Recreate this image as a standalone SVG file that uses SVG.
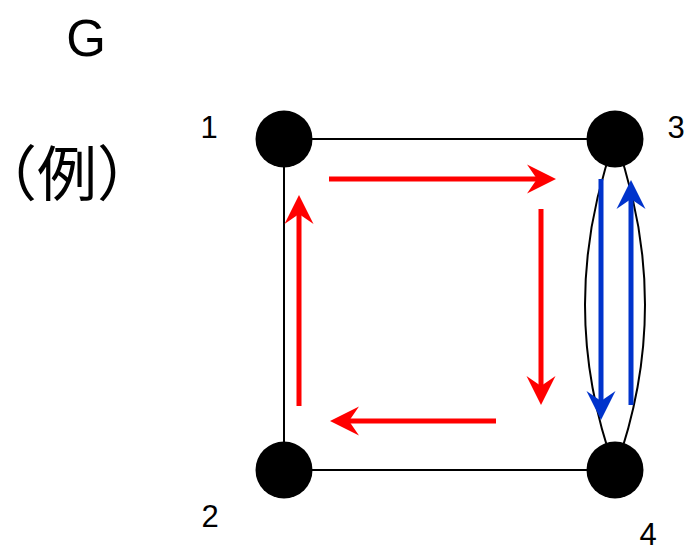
<svg xmlns="http://www.w3.org/2000/svg" width="688" height="552" viewBox="0 0 688 552">
<style>
.edge{fill:none;stroke:#000;stroke-width:2}
.node{fill:#000}
.num{font-family:"Liberation Sans",Arial,sans-serif;font-size:31px;fill:#000;text-anchor:middle}
.red{stroke:#ff0000;stroke-width:5;fill:none}
.blue{stroke:#0033cc;stroke-width:5;fill:none}
.rei{font-family:"Noto Sans CJK JP",sans-serif;font-size:60px;font-feature-settings:"halt" 1}
</style>
<defs>
<marker id="ahR" markerUnits="userSpaceOnUse" markerWidth="30" markerHeight="30" viewBox="0 -15 30 30" refX="10" refY="0" orient="auto">
<path d="M0,-14.5 L29,0 L0,14.5 L10,0 Z" fill="#ff0000"/>
</marker>
<marker id="ahB" markerUnits="userSpaceOnUse" markerWidth="30" markerHeight="30" viewBox="0 -15 30 30" refX="10" refY="0" orient="auto">
<path d="M0,-14.5 L29,0 L0,14.5 L10,0 Z" fill="#0033cc"/>
</marker>
</defs>
<rect width="688" height="552" fill="#fff"/>
<text x="86" y="56" font-family="Liberation Sans,Arial,sans-serif" font-size="51" text-anchor="middle">G</text>
<text class="rei" x="7" y="196">（例）</text>
<g id="connectors">
<path class="edge" d="M284,139 L615,139"/>
<path class="edge" d="M284,139 L284,470"/>
<path class="edge" d="M284,470 L615,470"/>
<path class="edge" d="M615,139 Q555,305 615,470"/>
<path class="edge" d="M615,139 Q675,305 615,470"/>
<line class="red" x1="329" y1="179" x2="537" y2="179" marker-end="url(#ahR)"/>
<line class="red" x1="541" y1="209" x2="541" y2="386" marker-end="url(#ahR)"/>
<line class="red" x1="496" y1="421" x2="349" y2="421" marker-end="url(#ahR)"/>
<line class="red" x1="299" y1="406" x2="299" y2="214" marker-end="url(#ahR)"/>
<line class="blue" x1="601" y1="179" x2="601" y2="401" marker-end="url(#ahB)"/>
<line class="blue" x1="631" y1="405" x2="631" y2="199" marker-end="url(#ahB)"/>
</g>
<g id="node1"><circle class="node" cx="284" cy="139" r="28.5"/><text class="num" x="209" y="138">1</text></g>
<g id="node2"><circle class="node" cx="284" cy="470" r="28.5"/><text class="num" x="210" y="527">2</text></g>
<g id="node3"><circle class="node" cx="615" cy="139" r="28.5"/><text class="num" x="676" y="138">3</text></g>
<g id="node4"><circle class="node" cx="615" cy="470" r="28.5"/><text class="num" x="648" y="545">4</text></g>
</svg>
